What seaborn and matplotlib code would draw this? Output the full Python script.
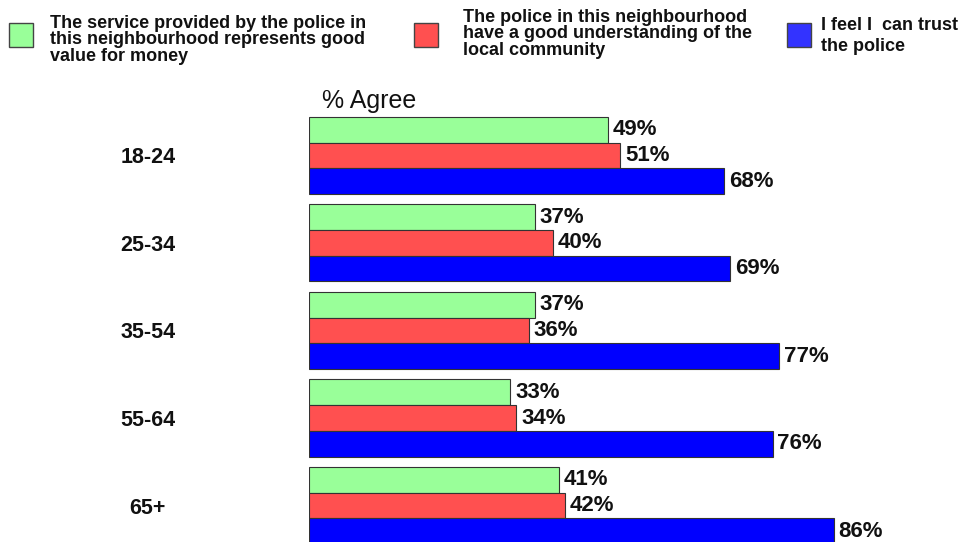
import matplotlib
matplotlib.use("Agg")
import matplotlib.pyplot as plt
import seaborn as sns
import pandas as pd

# data
ages = ["18-24", "25-34", "35-54", "55-64", "65+"]
series = [
    "The service provided by the police in\nthis neighbourhood represents good\nvalue for money",
    "The police in this neighbourhood\nhave a good understanding of the\nlocal community",
    "I feel I  can trust\nthe police",
]
value_for_money = [49, 37, 37, 33, 41]
understanding = [51, 40, 36, 34, 42]
trust = [68, 69, 77, 76, 86]

bar_colors = ["#99FF99", "#FF5050", "#0000FF"]
legend_colors = ["#99FF99", "#FF5050", "#3333FF"]

rows = []
for s, vals in zip(series, [value_for_money, understanding, trust]):
    for a, v in zip(ages, vals):
        rows.append({"age": a, "series": s, "pct": v})
df = pd.DataFrame(rows)

sns.set_style("white")
plt.rcParams["font.family"] = ["Liberation Sans", "DejaVu Sans"]

W, H = 963, 542
fig = plt.figure(figsize=(W / 100, H / 100), dpi=100)
ax = fig.add_axes([309 / W, 0, (919 - 309) / W, 442 / H])

sns.barplot(data=df, y="age", x="pct", hue="series", order=ages,
            hue_order=series, palette=bar_colors, orient="h", width=0.88,
            saturation=1, edgecolor="#333333", linewidth=0.8, legend=False,
            ax=ax)

for cont in ax.containers:
    ax.bar_label(cont, fmt="%d%%", padding=3.5, fontsize=16,
                 fontweight="bold", color="#111111")

ax.set_xlim(0, 100)
ax.set_ylim(4.417, -0.634)
ax.set_xlabel("")
ax.set_ylabel("")
ax.set_xticks([])
ax.tick_params(axis="y", length=0, pad=116)
for lab in ax.get_yticklabels():
    lab.set_fontweight("bold")
    lab.set_fontsize(15.5)
    lab.set_horizontalalignment("center")
    lab.set_color("#111111")
for sp in ax.spines.values():
    sp.set_visible(False)

fig.text(322 / W, 1 - 101 / H, "% Agree", fontsize=18, va="center",
         color="#111111")

# legend, drawn by hand to keep the reference spacing
patch_x = [9, 414, 787]
text_x = [50, 463, 821]
text_y = [40, 34, 36]
spacing = [0.95, 0.95, 1.3]
for px, tx, ty, ls, col, lab in zip(patch_x, text_x, text_y, spacing,
                                    legend_colors, series):
    fig.patches.append(plt.Rectangle((px / W, 1 - 47 / H), 24 / W, 24 / H,
                                     transform=fig.transFigure,
                                     facecolor=col, edgecolor="#444444",
                                     linewidth=1))
    fig.text(tx / W, 1 - ty / H, lab, fontsize=13, fontweight="bold",
             va="center", linespacing=ls, color="#111111")

fig.savefig("out.png", dpi=100)
